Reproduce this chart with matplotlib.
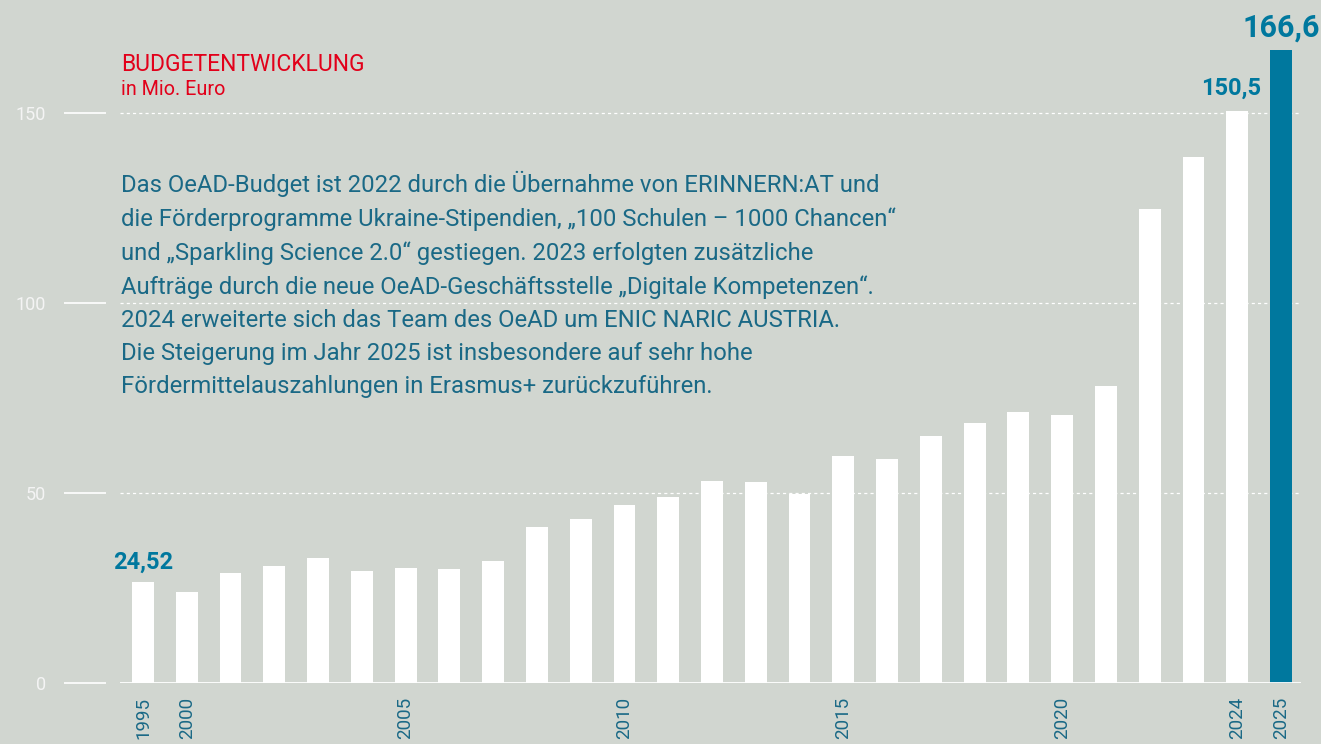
import matplotlib.pyplot as plt

# Budget in Mio. Euro
years = ["1995"] + [str(y) for y in range(2000, 2026)]
budget = [26.6, 23.9, 28.9, 30.8, 32.9, 29.5, 30.3, 30.0, 32.1, 41.1,
          43.2, 46.8, 48.9, 53.2, 52.9, 49.7, 59.7, 58.9, 65.0, 68.4,
          71.3, 70.5, 78.2, 124.7, 138.4, 150.5, 166.6]
shown_years = ["1995", "2000", "2005", "2010", "2015", "2020", "2024", "2025"]
value_labels = {"1995": "24,52", "2024": "150,5", "2025": "166,6"}
y_ticks = [0, 50, 100, 150]

title = "BUDGETENTWICKLUNG"
subtitle = "in Mio. Euro"
note = (
    "Das OeAD-Budget ist 2022 durch die Übernahme von ERINNERN:AT und\n"
    "die Förderprogramme Ukraine-Stipendien, „100 Schulen – 1000 Chancen“\n"
    "und „Sparkling Science 2.0“ gestiegen. 2023 erfolgten zusätzliche\n"
    "Aufträge durch die neue OeAD-Geschäftsstelle „Digitale Kompetenzen“.\n"
    "2024 erweiterte sich das Team des OeAD um ENIC NARIC AUSTRIA.\n"
    "Die Steigerung im Jahr 2025 ist insbesondere auf sehr hohe\n"
    "Fördermittelauszahlungen in Erasmus+ zurückzuführen."
)

BG = "#d1d6d0"
TEAL = "#00789e"
TEXT_TEAL = "#1a6986"
RED = "#e2001a"
FONT = "Roboto"

W, H = 1321, 744
fig = plt.figure(figsize=(W / 100, H / 100), dpi=100, facecolor=BG)

# axes placed in pixel terms: left edge 106 px, right edge 1301 px, zero line at y=683
step = 43.77
first = 143
left_px, right_px, zero_px = 106, 1301, 683
ax = fig.add_axes([left_px / W, (H - zero_px) / H, (right_px - left_px) / W, zero_px / H])
ax.set_facecolor(BG)
ax.set_xlim((left_px - first) / step, (right_px - first) / step)
ax.set_ylim(0, zero_px / 3.8)

x = list(range(len(years)))
colors = ["white"] * (len(years) - 1) + [TEAL]
ax.bar(x, budget, width=0.5, color=colors, zorder=3)

# grid lines start a bit right of the tick marks
gx0 = (120 - first) / step
gx1 = ax.get_xlim()[1]
ax.hlines([t for t in y_ticks if t > 0], gx0, gx1, colors="white",
          linestyles=(0, (2.5, 2.5)), linewidth=0.9, zorder=1)
ax.hlines([0], gx0, gx1, colors="white", linewidth=1.3, zorder=4)

for s in ax.spines.values():
    s.set_visible(False)

ax.set_yticks(y_ticks)
ax.set_yticklabels([str(t) for t in y_ticks], fontsize=13, color="#f4f4f4",
                   family=FONT)
ax.tick_params(axis="y", direction="out", length=30, width=1.2, color="white", pad=13)

ax.set_xticks([years.index(y) for y in shown_years])
ax.set_xticklabels(shown_years, rotation=90, fontsize=13.5, color=TEXT_TEAL,
                   family=FONT, va="top")
ax.tick_params(axis="x", length=0, pad=10)

# value labels
for yr, lab in value_labels.items():
    i = years.index(yr)
    size = 22 if yr == "2025" else 17
    dx = -0.14 if yr == "2024" else 0
    off = {"1995": 6, "2024": 8, "2025": 5}[yr]
    ax.annotate(lab, (i + dx, budget[i]), xytext=(0, off),
                textcoords="offset points", ha="center", va="bottom",
                fontsize=size, fontweight="bold", color=TEAL, family=FONT)

# texts
def px(xp, yp):
    return xp / W, 1 - yp / H

fig.text(*px(121, 71), title, fontsize=16.5, color=RED, family=FONT,
         va="baseline", ha="left")
fig.text(*px(121, 95), subtitle, fontsize=14.2, color=RED, family=FONT,
         va="baseline", ha="left")
fig.text(*px(121, 171), note, fontsize=17.2, color=TEXT_TEAL, family=FONT,
         va="top", ha="left", linespacing=1.55)

fig.savefig("out.png", dpi=100, facecolor=BG)
